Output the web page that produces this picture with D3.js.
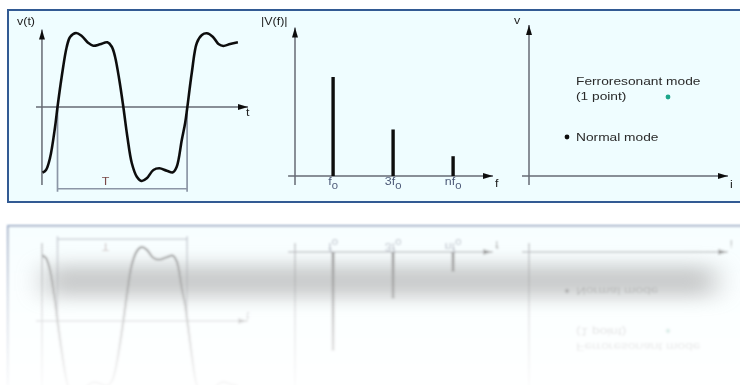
<!DOCTYPE html>
<html>
<head>
<meta charset="utf-8">
<script src="https://cdn.jsdelivr.net/npm/d3@7"></script>
<style>
  body { margin: 0; background: #fff; }
  svg { display: block; }
  text { font-family: "Liberation Sans", Arial, sans-serif; }
</style>
</head>
<body>
<svg width="740" height="385"></svg>
<script>
// waveform v(t), t in periods, v relative to peak
var waveT = [-0.116, -0.089, -0.058, -0.019, 0.0, 0.032, 0.071, 0.097, 0.143, 0.187, 0.238, 0.276, 0.328, 0.385, 0.419, 0.444, 0.477, 0.508, 0.539, 0.573, 0.612, 0.65, 0.689, 0.74, 0.786, 0.843, 0.89, 0.92, 0.959, 0.985, 1.002, 1.036, 1.075, 1.114, 1.152, 1.198, 1.242, 1.28, 1.332, 1.392];
var waveV = [-0.9, -0.863, -0.699, -0.274, 0.0, 0.411, 0.822, 0.959, 1.014, 0.973, 0.877, 0.84, 0.859, 0.886, 0.826, 0.689, 0.37, 0.0, -0.407, -0.767, -0.955, -1.014, -0.977, -0.863, -0.84, -0.873, -0.895, -0.818, -0.452, -0.219, 0.0, 0.466, 0.877, 0.986, 1.01, 0.963, 0.863, 0.836, 0.863, 0.886];

// spectrum |V(f)|
var harmonics = [1, 3, 5];
var harmonicLabels = ["f", "3f", "nf"];
var amplitudes = [1.0, 0.47, 0.2];

// operating points v(i)
var modeNames = ["Normal mode", "Ferroresonant mode"];
var modeI = [1.9, 6.95];
var modeV = [1.95, 3.95];
var modeColors = ["#111", "#1aa68a"];

var svg = d3.select("svg");
var defs = svg.append("defs");

defs.append("marker")
  .attr("id", "arrow")
  .attr("viewBox", "0 0 10 6")
  .attr("refX", 10).attr("refY", 3)
  .attr("markerWidth", 10).attr("markerHeight", 6)
  .attr("markerUnits", "userSpaceOnUse")
  .attr("orient", "auto")
  .append("path").attr("d", "M0,0L10,3L0,6Z").attr("fill", "#111");

var axisColor = "#666a74";
var stretch = 1.25;

function label(g, x, y, txt, size, color, anchor) {
  return g.append("text")
    .attr("transform", "translate(" + x + "," + y + ") scale(" + stretch + ",1)")
    .attr("font-size", size)
    .attr("fill", color)
    .attr("text-anchor", anchor || "start")
    .text(txt);
}

function axisLine(g, x1, y1, x2, y2, arrow) {
  var l = g.append("line")
    .attr("x1", x1).attr("y1", y1).attr("x2", x2).attr("y2", y2)
    .attr("stroke", axisColor).attr("stroke-width", 1.5);
  if (arrow) l.attr("marker-end", "url(#arrow)");
  return l;
}

var panel = defs.append("g").attr("id", "panel");

panel.append("rect")
  .attr("x", 8).attr("y", 10).attr("width", 740).attr("height", 192)
  .attr("fill", "#effdff")
  .attr("stroke", "#335a93").attr("stroke-width", 2);

// ---- left: v(t)
var g1 = panel.append("g");
var xT = d3.scaleLinear([-0.166, 1.47], [36, 248]);
var yW = d3.scaleLinear([-1, 1], [180, 34]);

// T bracket
g1.append("path")
  .attr("d", "M" + xT(0) + "," + yW(0) + "V" + yW(-1.16) + "M" + xT(1) + "," + yW(0) + "V" + yW(-1.16) +
    "M" + xT(0) + "," + yW(-1.12) + "H" + xT(1))
  .attr("fill", "none").attr("stroke", "#8c96a6").attr("stroke-width", 1.7);
label(g1, xT(0.37), 185, "T", 10, "#7a4a4a", "middle");

axisLine(g1, xT(-0.166), yW(0), xT(1.47), yW(0), true);
axisLine(g1, xT(-0.12), yW(-1.07), xT(-0.12), yW(1.06), true);

var wave = waveT.map(function (t, i) { return [t, waveV[i]]; });
g1.append("path")
  .datum(wave)
  .attr("d", d3.line().x(function (d) { return xT(d[0]); }).y(function (d) { return yW(d[1]); }).curve(d3.curveCatmullRom))
  .attr("fill", "none").attr("stroke", "#111").attr("stroke-width", 2.6);

label(g1, 17, 25, "v(t)", 10, "#222");
label(g1, 246, 116, "t", 10, "#222");

// ---- middle: |V(f)|
var g2 = panel.append("g");
var xF = d3.scaleLinear([-0.27, 6.33], [295, 493]);
var yA = d3.scaleLinear([0, 1.5], [176, 27.5]);

axisLine(g2, xF(-0.5), yA(0), xF(6.33), yA(0), true);
axisLine(g2, xF(-0.27), yA(-0.09), xF(-0.27), yA(1.5), true);

g2.selectAll(".bar").data(harmonics).enter().append("rect")
  .attr("class", "bar")
  .attr("x", function (d) { return xF(d) - 1.7; })
  .attr("width", 3.4)
  .attr("y", function (d, i) { return yA(amplitudes[i]); })
  .attr("height", function (d, i) { return yA(0) - yA(amplitudes[i]); })
  .attr("fill", "#111");

g2.selectAll(".hl").data(harmonics).enter().append("text")
  .attr("class", "hl")
  .attr("transform", function (d) { return "translate(" + xF(d) + ",185) scale(" + stretch + ",1)"; })
  .attr("font-size", 10)
  .attr("fill", "#4d5a78")
  .attr("text-anchor", "middle")
  .each(function (d, i) {
    var t = d3.select(this);
    t.append("tspan").text(harmonicLabels[i]);
    t.append("tspan").attr("dy", 4).attr("font-size", 9).text("0");
  });

label(g2, 261, 25, "|V(f)|", 10, "#222");
label(g2, 495, 187, "f", 10, "#222");

// ---- right: v(i)
var g3 = panel.append("g");
var xI = d3.scaleLinear([0, 10], [529, 729]);
var yR = d3.scaleLinear([0, 7.5], [176, 26]);

axisLine(g3, xI(-0.35), yR(0), xI(9.95), yR(0), true);
axisLine(g3, xI(0), yR(-0.45), xI(0), yR(7.55), true);

g3.selectAll("circle").data(modeI).enter().append("circle")
  .attr("cx", function (d) { return xI(d); })
  .attr("cy", function (d, i) { return yR(modeV[i]); })
  .attr("r", 2.4)
  .attr("fill", function (d, i) { return modeColors[i]; });

label(g3, xI(modeI[0]) + 9, yR(modeV[0]) + 4, modeNames[0], 11, "#2a2a2a");
label(g3, xI(modeI[0]) + 9, yR(modeV[1]) - 12, modeNames[1], 11, "#2a2a2a");
label(g3, xI(modeI[0]) + 9, yR(modeV[1]) + 3, "(1 point)", 11, "#2a2a2a");

label(g3, 514, 24, "v", 10, "#222");
label(g3, 730, 188, "i", 10, "#222");

// ---- draw panel + reflection
var soft = defs.append("filter").attr("id", "soft");
soft.append("feGaussianBlur").attr("stdDeviation", 0.35);
var blurR = defs.append("filter").attr("id", "blurR");
blurR.append("feGaussianBlur").attr("stdDeviation", 0.9);
var blurBand = defs.append("filter").attr("id", "blurBand")
  .attr("x", -0.2).attr("y", -1).attr("width", 1.4).attr("height", 3);
blurBand.append("feGaussianBlur").attr("stdDeviation", "14 9");

var fade = defs.append("linearGradient").attr("id", "fade")
  .attr("gradientUnits", "userSpaceOnUse")
  .attr("x1", 0).attr("y1", 214).attr("x2", 0).attr("y2", 385);
fade.append("stop").attr("offset", 0).attr("stop-color", "#fff").attr("stop-opacity", 0.55);
fade.append("stop").attr("offset", 0.5).attr("stop-color", "#fff").attr("stop-opacity", 0.25);
fade.append("stop").attr("offset", 1).attr("stop-color", "#fff").attr("stop-opacity", 0.04);
defs.append("mask").attr("id", "reflMask")
  .append("rect").attr("x", 0).attr("y", 214).attr("width", 740).attr("height", 171)
  .attr("fill", "url(#fade)");

svg.append("use").attr("href", "#panel").attr("filter", "url(#soft)");

svg.append("g").attr("mask", "url(#reflMask)").attr("filter", "url(#blurR)")
  .append("use").attr("href", "#panel")
  .attr("transform", "translate(0,428) scale(1,-1)");

svg.append("rect")
  .attr("x", 45).attr("y", 265).attr("width", 670).attr("height", 32)
  .attr("fill", "#999").attr("opacity", 0.5)
  .attr("filter", "url(#blurBand)");
</script>
</body>
</html>
